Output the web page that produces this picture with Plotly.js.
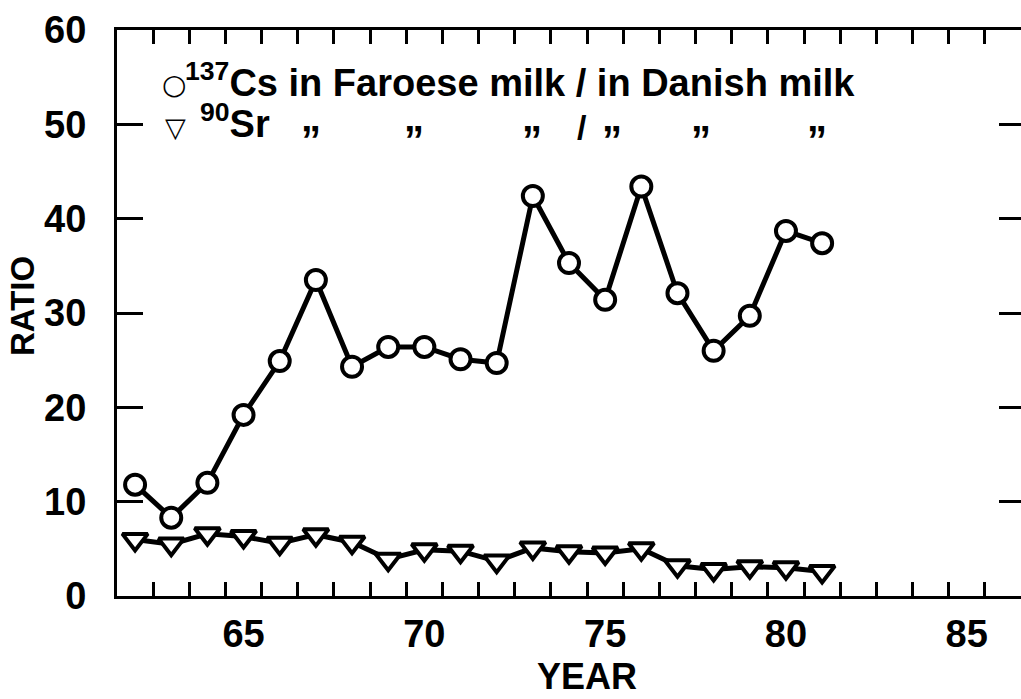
<!DOCTYPE html>
<html>
<head>
<meta charset="utf-8">
<script src="https://cdn.plot.ly/plotly-3.0.1.min.js"></script>
<style>
  html, body { margin: 0; padding: 0; background: #fff; }
  #chart { width: 1021px; height: 699px; }
</style>
</head>
<body>
<div id="chart"></div>
<script>
// ---- data ----
const years = [62, 63, 64, 65, 66, 67, 68, 69, 70, 71, 72, 73, 74, 75, 76, 77, 78, 79, 80, 81];
const cs137Ratio = [11.8, 8.3, 12.0, 19.2, 24.9, 33.5, 24.3, 26.4, 26.4, 25.1, 24.7, 42.4, 35.3, 31.4, 43.4, 32.1, 26.0, 29.7, 38.7, 37.4];
const sr90Ratio = [6.0, 5.5, 6.6, 6.3, 5.6, 6.5, 5.7, 3.9, 4.9, 4.75, 3.7, 5.1, 4.7, 4.55, 5.0, 3.2, 2.8, 3.1, 3.0, 2.6];
const xTickVals = [65, 70, 75, 80, 85];
const xTickText = ['65', '70', '75', '80', '85'];
const yTickVals = [0, 10, 20, 30, 40, 50, 60];
const yTickText = ['0', '10', '20', '30', '40', '50', '60'];
const legendLine1 = '<sup>137</sup>Cs in Faroese milk / in Danish milk';
const legendLine2 = '<sup>90</sup>Sr';
const dittoMarks = ['\u201D', '\u201D', '\u201D', '/', '\u201D', '\u201D', '\u201D'];
const xTitle = 'YEAR';
const yTitle = 'RATIO';

// ---- layout helpers (pixel -> paper) ----
const L = 117, R = 0, T = 30, B = 103, W = 1021, H = 699;
const PW = W - L - R, PH = H - T - B;
const px = p => (p - L) / PW;
const py = p => (H - B - p) / PH;

const FONT = 'Liberation Sans, Arial, Helvetica, sans-serif';
const ink = '#000';

const traces = [
  {
    x: years, y: cs137Ratio, type: 'scatter', mode: 'lines+markers',
    line: { color: ink, width: 5 },
    marker: { symbol: 'circle', size: 20, color: '#fff', line: { color: ink, width: 4 } },
    xaxis: 'x', yaxis: 'y', name: '137Cs'
  },
  {
    x: years, y: sr90Ratio, type: 'scatter', mode: 'lines+markers',
    line: { color: ink, width: 5 },
    marker: { symbol: 'triangle-down', size: 22, color: '#fff', line: { color: ink, width: 4 } },
    xaxis: 'x', yaxis: 'y2', name: '90Sr'
  }
];

const dittoX = [311, 414, 532, 582, 612, 701, 817];
const annotations = [
  { text: '\u25CB', x: px(174), y: py(84), xref: 'paper', yref: 'paper', showarrow: false,
    xanchor: 'center', yanchor: 'middle', font: { family: 'DejaVu Sans', size: 28, color: ink, weight: 'bold' } },
  { text: legendLine1, x: px(183), y: py(80), xref: 'paper', yref: 'paper', showarrow: false,
    xanchor: 'left', yanchor: 'middle', font: { family: FONT, size: 38, color: ink, weight: 'bold' } },
  { text: '\u25BD', x: px(175), y: py(127), xref: 'paper', yref: 'paper', showarrow: false,
    xanchor: 'center', yanchor: 'middle', font: { family: 'DejaVu Sans', size: 27, color: ink, weight: 'bold' } },
  { text: legendLine2, x: px(198), y: py(121), xref: 'paper', yref: 'paper', showarrow: false,
    xanchor: 'left', yanchor: 'middle', font: { family: FONT, size: 38, color: ink, weight: 'bold' } },
  { text: xTitle, x: px(587), y: py(676), xref: 'paper', yref: 'paper', showarrow: false,
    xanchor: 'center', yanchor: 'middle', font: { family: FONT, size: 36, color: ink, weight: 'bold' } },
  { text: yTitle, x: px(22), y: py(306), xref: 'paper', yref: 'paper', showarrow: false, textangle: -90,
    xanchor: 'center', yanchor: 'middle', font: { family: FONT, size: 33, color: ink, weight: 'bold' } }
];
dittoMarks.forEach((m, i) => {
  const isSlash = m === '/';
  annotations.push({
    text: m, x: px(dittoX[i]), y: py(isSlash ? 127 : 140), xref: 'paper', yref: 'paper', showarrow: false,
    xanchor: 'center', yanchor: 'middle',
    font: { family: FONT, size: isSlash ? 34 : 40, color: ink, weight: 'bold' }
  });
});

const layout = {
  width: W, height: H,
  margin: { l: L, r: R, t: T, b: B, pad: 0 },
  paper_bgcolor: '#fff', plot_bgcolor: '#fff',
  showlegend: false,
  xaxis: {
    range: [61.5, 86.5],
    tickmode: 'array', tickvals: xTickVals, ticktext: xTickText,
    ticks: 'inside', ticklen: 0, tickwidth: 3, tickcolor: ink,
    minor: { tickmode: 'linear', tick0: 62.5, dtick: 1, ticks: 'inside', ticklen: 14, tickwidth: 3, tickcolor: ink, showgrid: false },
    showline: true, linewidth: 3, linecolor: ink, mirror: 'allticks',
    showgrid: false, zeroline: false,
    ticklabelstandoff: 2,
    tickfont: { family: FONT, size: 38, color: ink, weight: 'bold' },
    fixedrange: true
  },
  yaxis: {
    range: [0, 60],
    tickmode: 'array', tickvals: yTickVals, ticktext: yTickText,
    ticks: 'inside', ticklen: 26, tickwidth: 3, tickcolor: ink,
    showline: true, linewidth: 3, linecolor: ink, mirror: false,
    showgrid: false, zeroline: false,
    ticklabelstandoff: 20,
    tickfont: { family: FONT, size: 38, color: ink, weight: 'bold' },
    fixedrange: true
  },
  yaxis2: {
    range: [0, 60], overlaying: 'y', side: 'right',
    tickmode: 'array', tickvals: yTickVals,
    ticks: 'inside', ticklen: 22, tickwidth: 3, tickcolor: ink,
    showticklabels: false, showline: false, showgrid: false, zeroline: false,
    fixedrange: true
  },
  annotations: annotations
};

Plotly.newPlot('chart', traces, layout, { staticPlot: true, displayModeBar: false });
</script>
</body>
</html>
